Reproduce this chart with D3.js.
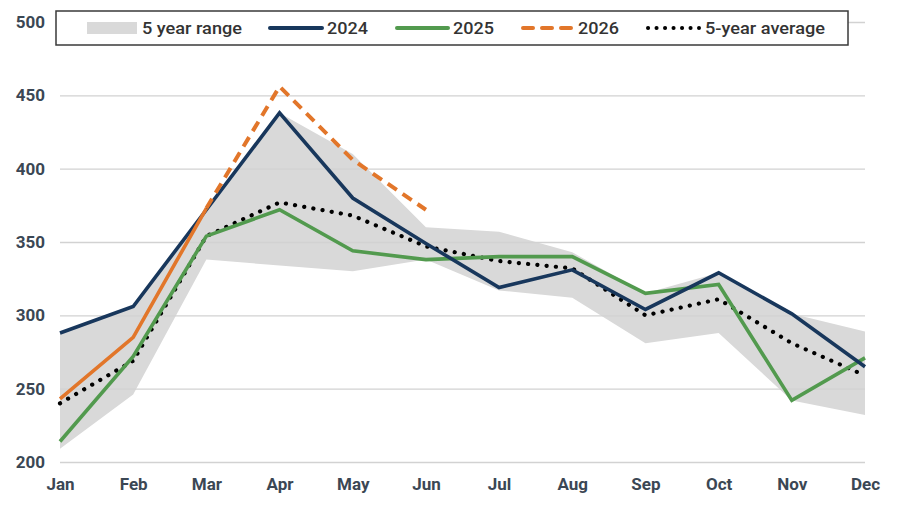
<!DOCTYPE html>
<html>
<head>
<meta charset="utf-8">
<script src="https://cdn.jsdelivr.net/npm/d3@7"></script>
<style>
  html, body { margin: 0; padding: 0; background: #fff; }
  svg { display: block; }
</style>
</head>
<body>
<svg id="chart" width="903" height="507"></svg>
<script>
const months = ["Jan","Feb","Mar","Apr","May","Jun","Jul","Aug","Sep","Oct","Nov","Dec"];
const yTicks = [200, 250, 300, 350, 400, 450, 500];
const rangeLow  = [209, 246, 338, 334, 330, 338, 317, 312, 281, 288, 242, 232];
const rangeHigh = [288, 306, 372, 438, 410, 360, 357, 343, 315, 329, 301, 289];
const s2024 = [288, 306, 372, 438, 380, 349, 319, 331, 304, 329, 301, 265];
const s2025 = [214, 272, 354, 372, 344, 338, 340, 340, 315, 321, 242, 271];
const s2026 = [243, 285, 373, 456, 406, 372];
const s2026ActualCount = 3; // Jan–Mar solid, Mar onward dashed
const avg5  = [240, 269, 354, 377, 368, 347, 337, 332, 300, 311, 281, 259];

const svg = d3.select("#chart");
const x = d3.scalePoint().domain(months).range([60, 865]);
const y = d3.scaleLinear().domain([200, 500]).range([462, 22]);

const axisColor = "#3b4754";
const navy = "#18375c", green = "#529a4e", orange = "#e2762a";

// band
const area = d3.area()
  .x((d, i) => x(months[i]))
  .y0((d, i) => y(rangeLow[i]))
  .y1((d, i) => y(rangeHigh[i]));
svg.append("path").datum(rangeLow).attr("d", area).attr("fill", "#d9d9d9");

// gridlines
const yAxis = d3.axisLeft(y).tickValues(yTicks).tickSize(-(865 - 60)).tickPadding(15);
const gy = svg.append("g").attr("transform", "translate(60,0)").call(yAxis);
gy.select(".domain").remove();
gy.selectAll(".tick line").attr("stroke", "#d2d2d2").attr("stroke-width", 1.4);
gy.selectAll(".tick text")
  .attr("fill", axisColor)
  .style("font-family", "Roboto, 'Noto Sans', sans-serif")
  .style("font-weight", "700")
  .style("font-size", "17px");

const xAxis = d3.axisBottom(x).tickSize(0).tickPadding(16);
const gx = svg.append("g").attr("transform", "translate(0,462)").call(xAxis);
gx.select(".domain").remove();
gx.selectAll(".tick text")
  .attr("fill", axisColor)
  .style("font-family", "Roboto, 'Noto Sans', sans-serif")
  .style("font-weight", "700")
  .style("font-size", "17px");

const line = d3.line().x(d => x(d.m)).y(d => y(d.v));
const toPts = arr => arr.map((v, i) => ({ m: months[i], v }));

// avg dotted
svg.append("path").datum(toPts(avg5)).attr("d", line)
  .attr("fill", "none").attr("stroke", "#000").attr("stroke-width", 4.2)
  .attr("stroke-linecap", "round").attr("stroke-dasharray", "0.1 9.2");

// 2025
svg.append("path").datum(toPts(s2025)).attr("d", line)
  .attr("fill", "none").attr("stroke", green).attr("stroke-width", 3.6);

// 2024
svg.append("path").datum(toPts(s2024)).attr("d", line)
  .attr("fill", "none").attr("stroke", navy).attr("stroke-width", 3.6);

// 2026 actual (solid) and forecast (dashed)
const p26 = toPts(s2026);
svg.append("path").datum(p26.slice(0, s2026ActualCount)).attr("d", line)
  .attr("fill", "none").attr("stroke", orange).attr("stroke-width", 3.6);
svg.append("path").datum(p26.slice(s2026ActualCount - 1)).attr("d", line)
  .attr("fill", "none").attr("stroke", orange).attr("stroke-width", 4)
  .attr("stroke-dasharray", "11 7");

// legend
const lg = svg.append("g");
lg.append("rect").attr("x", 56).attr("y", 11).attr("width", 792).attr("height", 34)
  .attr("fill", "#fff").attr("stroke", "#3a3a3a").attr("stroke-width", 1.5);

const legendItems = [
  { label: "5 year range", type: "band", x0: 87, x1: 137, tx: 142, tw: 100 },
  { label: "2024", type: "solid", color: navy, x0: 270, x1: 322, tx: 327, tw: 41 },
  { label: "2025", type: "solid", color: green, x0: 397, x1: 448, tx: 453, tw: 41 },
  { label: "2026", type: "dash", color: orange, x0: 523, x1: 572, tx: 578, tw: 41 },
  { label: "5-year average", type: "dot", color: "#000", x0: 648, x1: 699, tx: 705, tw: 120 }
];
const ly = 28;
legendItems.forEach(it => {
  if (it.type === "band") {
    lg.append("rect").attr("x", it.x0).attr("y", ly - 6).attr("width", it.x1 - it.x0).attr("height", 12)
      .attr("fill", "#d9d9d9");
  } else {
    const l = lg.append("line").attr("x1", it.x0).attr("x2", it.x1).attr("y1", ly).attr("y2", ly)
      .attr("stroke", it.color);
    if (it.type === "solid") l.attr("stroke-width", 4).attr("stroke-linecap", "round");
    if (it.type === "dash") l.attr("stroke-width", 4).attr("stroke-linecap", "round").attr("stroke-dasharray", "10 9");
    if (it.type === "dot") l.attr("stroke-width", 4).attr("stroke-linecap", "round").attr("stroke-dasharray", "0.1 8.4");
  }
  lg.append("text").attr("x", it.tx).attr("y", ly + 6)
    .attr("textLength", it.tw).attr("lengthAdjust", "spacingAndGlyphs")
    .attr("fill", "#333")
    .style("font-family", "Roboto, 'Noto Sans', sans-serif")
    .style("font-weight", "500")
    .style("font-size", "17px")
    .text(it.label);
});
</script>
</body>
</html>
